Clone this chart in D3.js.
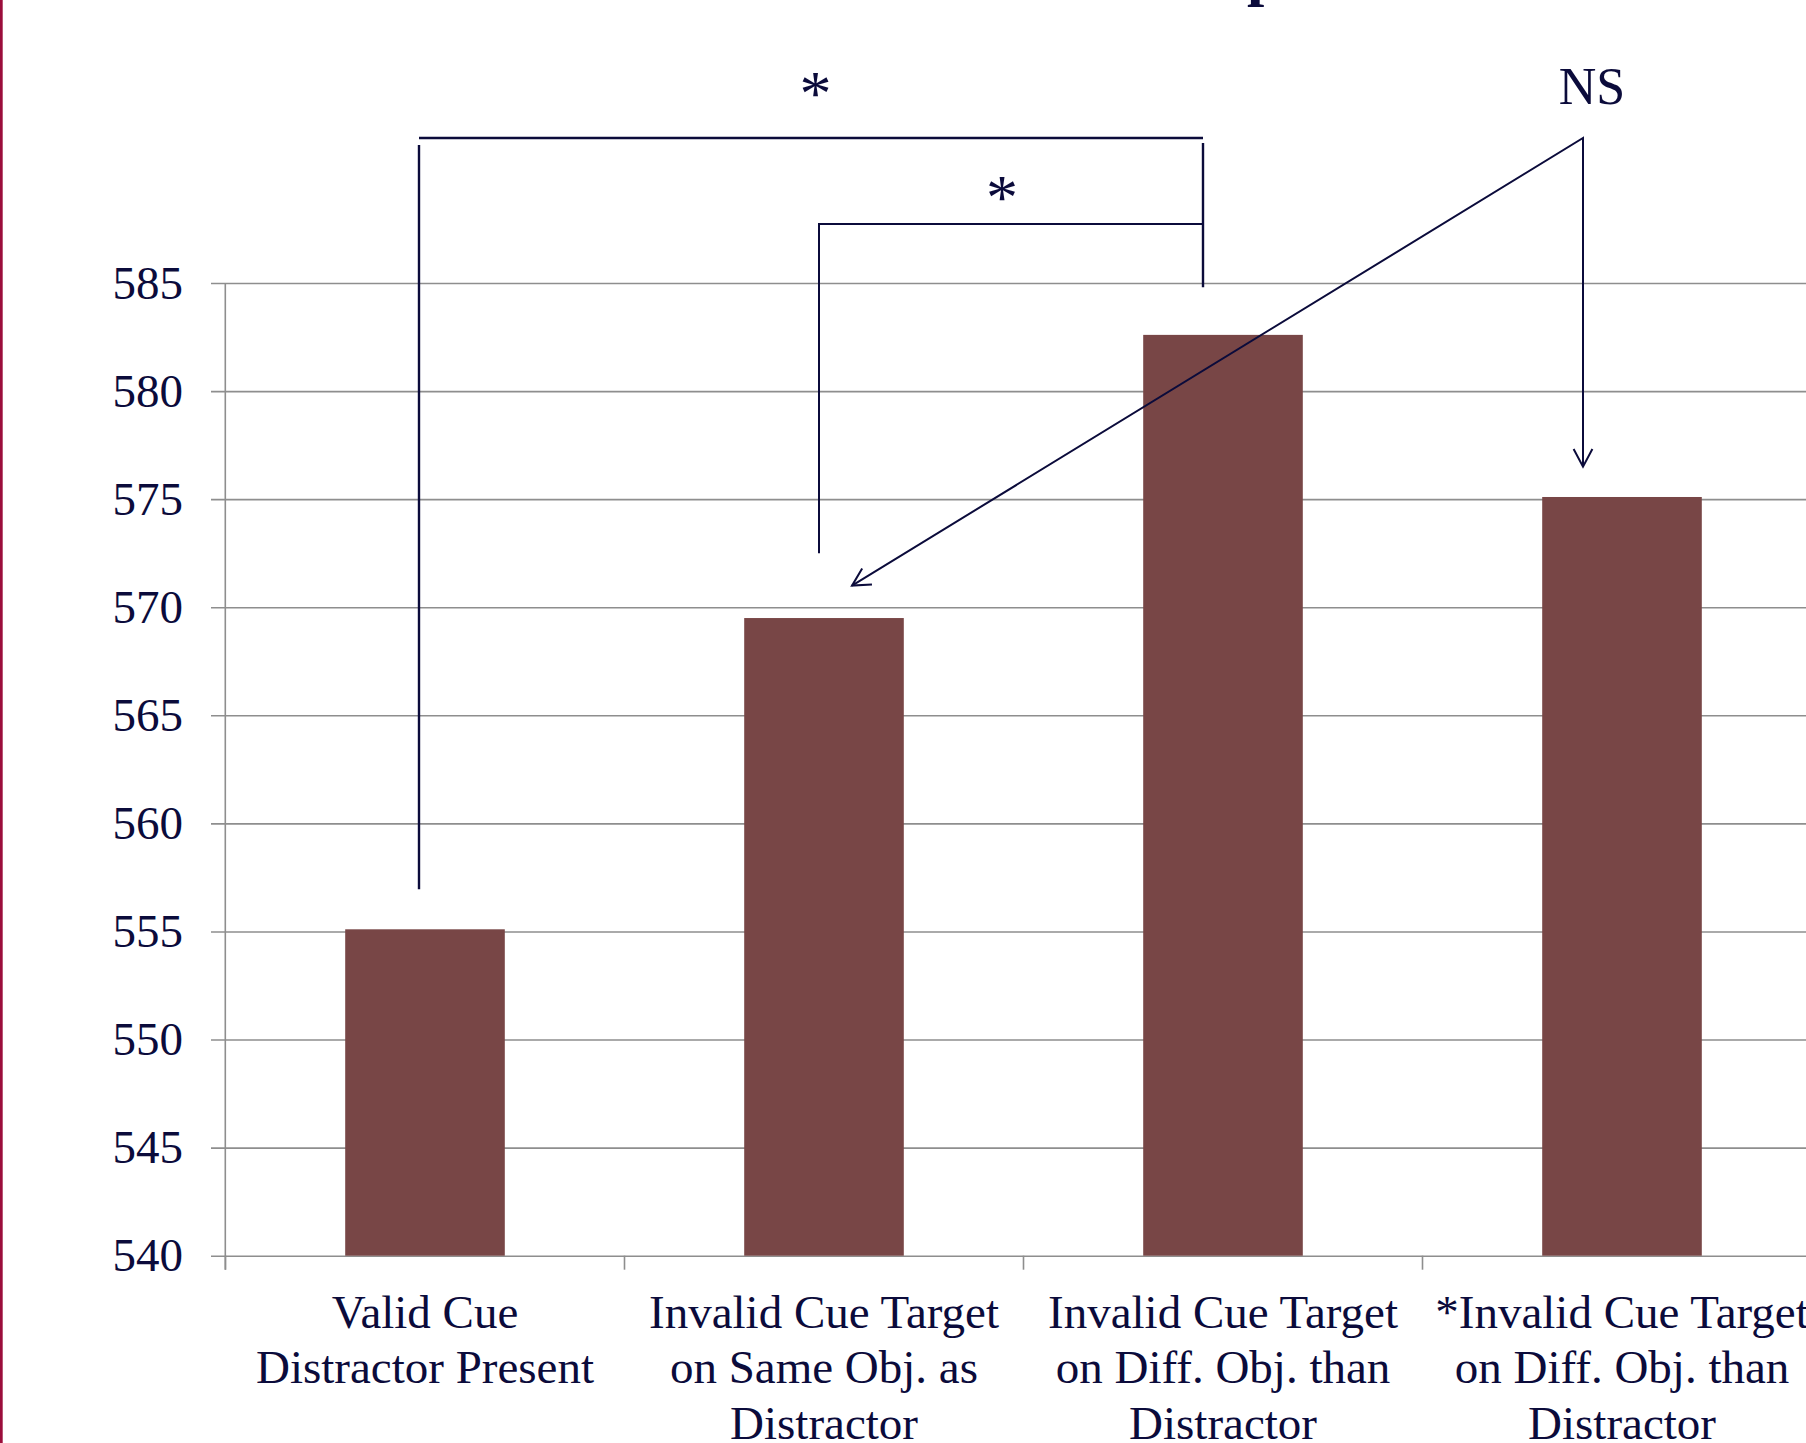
<!DOCTYPE html>
<html lang="en">

<head>
	<meta charset="utf-8">
	<title>Reaction time bar chart</title>
	<script type="text/javascript" src="https://cdn.jsdelivr.net/npm/d3@7"></script>
	<style type="text/css">
		body { margin: 0; background: #fff; overflow: hidden; }
		text { font-family: "Liberation Serif", "Times New Roman", serif; fill: #0b0b3b; }
	</style>
</head>

<body>
	<script type="text/javascript">
		//Width and height
		var w = 1806;
		var h = 1443;

		// data
		var categories = ["valid", "invalidSame", "invalidDiff", "invalidDiffStar"];
		var categoryLabels = [
			["Valid Cue", "Distractor Present"],
			["Invalid Cue Target", "on Same Obj. as", "Distractor"],
			["Invalid Cue Target", "on Diff. Obj. than", "Distractor"],
			["*Invalid Cue Target", "on Diff. Obj. than", "Distractor"]
		];
		var reactionTimes = [555.1, 569.5, 582.6, 575.1];
		var yTicks = [540, 545, 550, 555, 560, 565, 570, 575, 580, 585];
		var titleText = "Mean Response Times";

		var ink = "#0b0b3b";
		var grid = "#8e8e8e";

		// create scales
		var xScale = d3.scaleBand()
			.domain(categories)
			.range([225.5, 225.5 + 4 * 399])
			.paddingInner(0.6)
			.paddingOuter(0.3);

		var yScale = d3.scaleLinear()
			.domain([540, 585])
			.range([1255.7, 283]);

		function cx(c) {
			return xScale(c) + xScale.bandwidth() / 2;
		}

		//Create SVG element
		var svg = d3.select("body")
			.append("svg")
			.attr("width", w)
			.attr("height", h);

		// red page border on the left
		svg.append("rect")
			.attr("x", 0).attr("y", 0)
			.attr("width", 2.7).attr("height", h)
			.attr("fill", "#9b0d3b");

		// title, mostly off the top of the picture
		var title = svg.append("text")
			.attr("y", -6)
			.attr("font-size", "62px")
			.attr("font-weight", "bold")
			.text(titleText);
		var pIndex = titleText.indexOf("p");
		var pStart = title.node().getStartPositionOfChar(pIndex).x;
		title.attr("x", 1247 - pStart);

		// gridlines + y axis
		var yAxis = d3.axisLeft(yScale)
			.tickValues(yTicks)
			.tickSize(-(w - 211))
			.tickPadding(28)
			.tickFormat(d3.format("d"));

		var gy = svg.append("g")
			.attr("transform", "translate(211,0)")
			.call(yAxis);
		gy.select(".domain").remove();
		gy.selectAll(".tick line")
			.attr("stroke", grid)
			.attr("stroke-width", 1.6);
		gy.selectAll(".tick text")
			.attr("x", -28)
			.attr("font-size", "47px")
			.attr("font-family", "Liberation Serif, serif")
			.attr("fill", ink);

		// vertical axis line
		svg.append("line")
			.attr("x1", 225.3).attr("x2", 225.3)
			.attr("y1", yScale(585)).attr("y2", yScale(540) + 14)
			.attr("stroke", grid)
			.attr("stroke-width", 1.6);

		// x axis ticks on category boundaries
		svg.selectAll("line.xtick")
			.data(categories)
			.enter()
			.append("line")
			.attr("class", "xtick")
			.attr("x1", function (d) { return xScale(d) - xScale.step() * 0.3; })
			.attr("x2", function (d) { return xScale(d) - xScale.step() * 0.3; })
			.attr("y1", yScale(540))
			.attr("y2", yScale(540) + 14)
			.attr("stroke", grid)
			.attr("stroke-width", 1.6);

		// bars
		svg.selectAll("rect.bar")
			.data(reactionTimes)
			.enter()
			.append("rect")
			.attr("class", "bar")
			.attr("x", function (d, i) { return xScale(categories[i]); })
			.attr("y", function (d) { return yScale(d); })
			.attr("width", xScale.bandwidth())
			.attr("height", function (d) { return yScale(540) - yScale(d); })
			.attr("fill", "#784646");

		// category labels
		var labels = svg.selectAll("text.xlabel")
			.data(categoryLabels)
			.enter()
			.append("text")
			.attr("class", "xlabel")
			.attr("text-anchor", "middle")
			.attr("font-size", "47px");
		labels.selectAll("tspan")
			.data(function (d, i) {
				return d.map(function (line) { return { line: line, c: categories[i] }; });
			})
			.enter()
			.append("tspan")
			.attr("x", function (d) { return cx(d.c); })
			.attr("y", function (d, j) { return 1328 + j * 55.3; })
			.text(function (d) { return d.line; });

		// significance annotations
		var ann = svg.append("g")
			.attr("fill", "none")
			.attr("stroke", ink)
			.attr("stroke-width", 2);

		var xa = cx(categories[0]) - 6;
		var xb = cx(categories[1]) - 5;
		var xc = cx(categories[2]) - 20;
		var xd = cx(categories[3]) - 39;
		var topY = 138;

		// outer bracket
		ann.append("path")
			.attr("d", "M" + xa + "," + yScale(556.95) + "V" + (topY + 7) +
				"M" + xa + "," + topY + "H" + xc +
				"M" + xc + "," + (topY + 5) + "V" + yScale(584.8))
			.attr("stroke-width", 2.4);

		// inner bracket
		ann.append("path")
			.attr("d", "M" + xb + "," + yScale(572.5) + "V" + 224 + "H" + xc);

		// NS arrows
		var vx = xd, vy = topY;
		var tip1 = [vx, yScale(576.5)];
		var tip2 = [cx(categories[1]) + 28, yScale(571.0)];
		ann.append("path")
			.attr("d", "M" + tip2[0] + "," + tip2[1] + "L" + vx + "," + vy + "L" + tip1[0] + "," + tip1[1]);

		function arrowHead(tip, from) {
			var a = Math.atan2(from[1] - tip[1], from[0] - tip[0]);
			var len = 20, spread = 28 * Math.PI / 180;
			var p1 = [tip[0] + len * Math.cos(a - spread), tip[1] + len * Math.sin(a - spread)];
			var p2 = [tip[0] + len * Math.cos(a + spread), tip[1] + len * Math.sin(a + spread)];
			ann.append("path")
				.attr("d", "M" + p1[0] + "," + p1[1] + "L" + tip[0] + "," + tip[1] + "L" + p2[0] + "," + p2[1]);
		}
		arrowHead(tip1, [vx, vy]);
		arrowHead(tip2, [vx, vy]);

		// annotation texts
		var starSize = 64;
		svg.append("text")
			.attr("x", (xa + xc) / 2 + 4.5)
			.attr("y", 86 + 0.46 * starSize)
			.attr("text-anchor", "middle")
			.attr("font-size", starSize + "px")
			.text("*");
		svg.append("text")
			.attr("x", (xb + xc) / 2 - 9)
			.attr("y", 190 + 0.46 * starSize)
			.attr("text-anchor", "middle")
			.attr("font-size", starSize + "px")
			.text("*");
		svg.append("text")
			.attr("x", vx + 9)
			.attr("y", 104)
			.attr("text-anchor", "middle")
			.attr("font-size", "52px")
			.text("NS");
	</script>
</body>

</html>
